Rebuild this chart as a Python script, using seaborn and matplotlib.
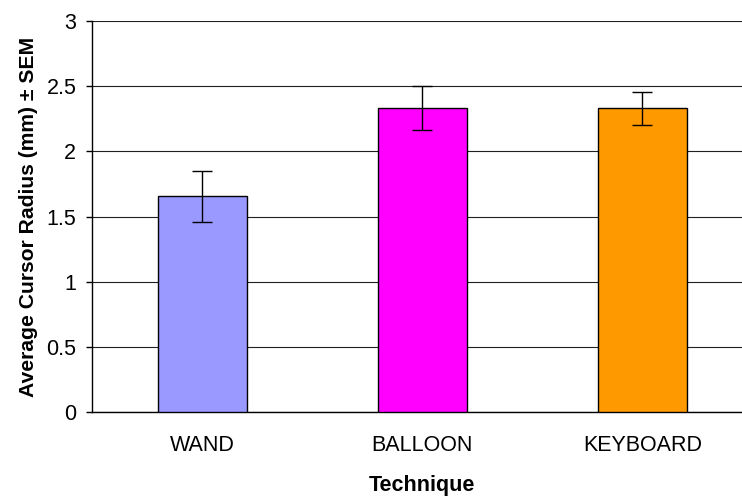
import matplotlib
matplotlib.use("Agg")
import matplotlib.pyplot as plt
import seaborn as sns
import pandas as pd

# Average cursor radius per technique (mm), with SEM
techniques = ["WAND", "BALLOON", "KEYBOARD"]
mean_radius = [1.655, 2.333, 2.328]
sem_radius = [0.195, 0.168, 0.125]
bar_colors = ["#9999FF", "#FF00FF", "#FF9900"]

df = pd.DataFrame({"Technique": techniques, "Radius": mean_radius, "SEM": sem_radius})

sns.set_theme(style="white")
plt.rcParams["font.family"] = ["Liberation Sans", "DejaVu Sans"]

fig = plt.figure(figsize=(7.42, 4.96), dpi=100)
# plot area runs past the right edge, like the original export
ax = fig.add_axes([0.1244, 0.1687, 0.8895, 0.7895])

sns.barplot(
    data=df, x="Technique", y="Radius", hue="Technique",
    palette=bar_colors, saturation=1, width=0.405, edgecolor="black", linewidth=1,
    errorbar=None, legend=False, ax=ax, zorder=3,
)

# SEM error bars centred on each bar
centers = [p.get_x() + p.get_width() / 2 for p in ax.patches]
ax.errorbar(centers, df["Radius"], yerr=df["SEM"], fmt="none",
            ecolor="black", elinewidth=1, capsize=7, capthick=1, zorder=4)

ax.set_ylim(0, 3)
ax.set_yticks([0, 0.5, 1, 1.5, 2, 2.5, 3])
ax.set_yticklabels(["0", "0.5", "1", "1.5", "2", "2.5", "3"])
ax.set_xlim(-0.5, 2.5)
ax.yaxis.grid(True, color="#202020", linewidth=0.8)
ax.set_axisbelow(True)

for side in ["top", "right"]:
    ax.spines[side].set_visible(False)
for side in ["left", "bottom"]:
    ax.spines[side].set_color("black")
    ax.spines[side].set_linewidth(1)

ax.tick_params(axis="y", left=True, direction="out", length=4.5, width=1,
               color="black", labelsize=15.5, pad=7, labelcolor="black")
ax.tick_params(axis="x", bottom=False, labelsize=15.5, pad=10, labelcolor="black")

ax.set_xlabel("Technique", fontsize=15.5, fontweight="bold", labelpad=14, color="black")
ax.set_ylabel("Average Cursor Radius (mm) \u00b1 SEM", fontsize=15.2,
              fontweight="bold", labelpad=6, color="black")

fig.savefig("out.png", dpi=100)
